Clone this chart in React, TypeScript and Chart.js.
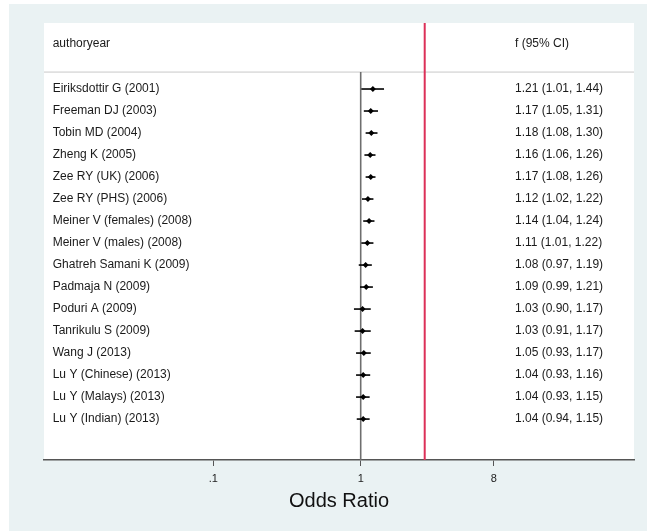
import React, { useEffect, useRef } from "react";
import { Chart, registerables } from "chart.js";

Chart.register(...registerables);

const studies = [
  "Eiriksdottir G (2001)",
  "Freeman DJ (2003)",
  "Tobin MD (2004)",
  "Zheng K (2005)",
  "Zee RY (UK) (2006)",
  "Zee RY (PHS) (2006)",
  "Meiner V (females) (2008)",
  "Meiner V (males) (2008)",
  "Ghatreh Samani K (2009)",
  "Padmaja N (2009)",
  "Poduri A (2009)",
  "Tanrikulu S (2009)",
  "Wang J (2013)",
  "Lu Y (Chinese) (2013)",
  "Lu Y (Malays) (2013)",
  "Lu Y (Indian) (2013)",
];
const estimates = [1.21, 1.17, 1.18, 1.16, 1.17, 1.12, 1.14, 1.11, 1.08, 1.09, 1.03, 1.03, 1.05, 1.04, 1.04, 1.04];
const lower = [1.01, 1.05, 1.08, 1.06, 1.08, 1.02, 1.04, 1.01, 0.97, 0.99, 0.9, 0.91, 0.93, 0.93, 0.93, 0.94];
const upper = [1.44, 1.31, 1.3, 1.26, 1.26, 1.22, 1.24, 1.22, 1.19, 1.21, 1.17, 1.17, 1.17, 1.16, 1.15, 1.15];
const tickValues = [0.1, 1, 8];
const tickLabels = [".1", "1", "8"];
const headerLeft = "authoryear";
const headerRight = "f (95% CI)";
const axisTitle = "Odds Ratio";
const refLine = 1;
const redLine = Math.E;

const X_MIN = 0.0071;
const X_MAX = 71.5;
const Y_MIN = -2;
const Y_MAX = 17.86;
const HEADER_Y = -1.07;
const RULE_Y = 0.23;

const FONT = "'Liberation Sans', Arial, Helvetica, sans-serif";

export default function App() {
  const ref = useRef<HTMLCanvasElement | null>(null);

  useEffect(() => {
    if (!ref.current) return;

    const ciDatasets = studies.map((_, i) => ({
      type: "line" as const,
      data: [
        { x: lower[i], y: i + 1 },
        { x: upper[i], y: i + 1 },
      ],
      borderColor: "#000000",
      borderWidth: 1.6,
      pointRadius: 0,
      fill: false,
      order: 2,
    }));

    const bgPlugin = {
      id: "bg",
      beforeDraw(chart: any) {
        const { ctx, chartArea } = chart;
        ctx.save();
        ctx.fillStyle = "#ffffff";
        ctx.fillRect(0, 0, chart.width, chart.height);
        ctx.fillStyle = "#eaf2f3";
        ctx.fillRect(9, 4, chart.width - 9, chart.height - 4);
        ctx.fillStyle = "#ffffff";
        ctx.fillRect(chartArea.left, chartArea.top, chartArea.right - chartArea.left, chartArea.bottom - chartArea.top);
        ctx.restore();
      },
    };

    const textPlugin = {
      id: "forestText",
      afterDatasetsDraw(chart: any) {
        const { ctx, chartArea, scales } = chart;
        const ys = scales.y;
        ctx.save();
        ctx.fillStyle = "#1a1a1a";
        ctx.font = `12px ${FONT}`;
        ctx.textBaseline = "middle";
        ctx.textAlign = "left";
        const leftX = chartArea.left + 8.7;
        const rightX = 515;
        ctx.fillText(headerLeft, leftX, ys.getPixelForValue(HEADER_Y));
        ctx.fillText(headerRight, rightX, ys.getPixelForValue(HEADER_Y));
        studies.forEach((s, i) => {
          const y = ys.getPixelForValue(i + 1);
          ctx.fillText(s, leftX, y);
          ctx.fillText(
            `${estimates[i].toFixed(2)} (${lower[i].toFixed(2)}, ${upper[i].toFixed(2)})`,
            rightX,
            y
          );
        });
        ctx.restore();
      },
    };

    const chart = new Chart(ref.current, {
      type: "scatter",
      data: {
        datasets: [
          {
            type: "line",
            data: [
              { x: X_MIN, y: RULE_Y },
              { x: X_MAX, y: RULE_Y },
            ],
            borderColor: "#c9c9c9",
            borderWidth: 1,
            pointRadius: 0,
            order: 5,
          },
          {
            type: "line",
            data: [
              { x: refLine, y: RULE_Y },
              { x: refLine, y: Y_MAX },
            ],
            borderColor: "#6e6e6e",
            borderWidth: 1.6,
            pointRadius: 0,
            order: 4,
          },
          {
            type: "line",
            data: [
              { x: redLine, y: Y_MIN },
              { x: redLine, y: Y_MAX },
            ],
            borderColor: "#dc3058",
            borderWidth: 2,
            pointRadius: 0,
            order: 3,
          },
          ...ciDatasets,
          {
            type: "scatter",
            data: estimates.map((v, i) => ({ x: v, y: i + 1 })),
            pointStyle: "rectRot",
            pointRadius: 3,
            backgroundColor: "#000000",
            borderColor: "#000000",
            borderWidth: 0,
            order: 1,
          },
        ] as any,
      },
      options: {
        animation: false,
        responsive: false,
        maintainAspectRatio: false,
        layout: { padding: { left: 44, right: 13, top: 23, bottom: 15.8 } },
        plugins: {
          legend: { display: false },
          tooltip: { enabled: false },
        },
        scales: {
          x: {
            type: "logarithmic",
            min: X_MIN,
            max: X_MAX,
            afterBuildTicks(scale: any) {
              scale.ticks = tickValues.map((v) => ({ value: v }));
            },
            ticks: {
              autoSkip: false,
              maxRotation: 0,
              padding: 6,
              color: "#222222",
              font: { family: FONT, size: 11 },
              callback(value: any) {
                const idx = tickValues.indexOf(Number(value));
                return idx >= 0 ? tickLabels[idx] : "";
              },
            },
            grid: {
              drawOnChartArea: false,
              drawTicks: true,
              tickLength: 6,
              color: "#555555",
              lineWidth: 1,
            },
            border: { display: true, color: "#555555", width: 1.6 },
            title: {
              display: true,
              text: axisTitle,
              color: "#111111",
              font: { family: FONT, size: 20, lineHeight: 1.0 },
              padding: { top: 0, bottom: 4 },
            },
          },
          y: {
            type: "linear",
            display: false,
            reverse: true,
            min: Y_MIN,
            max: Y_MAX,
          },
        },
      },
      plugins: [bgPlugin, textPlugin],
    });

    return () => chart.destroy();
  }, []);

  return (
    <div style={{ position: "absolute", left: 0, top: 0, width: 647, height: 531 }}>
      <canvas ref={ref} width={647} height={531} style={{ width: 647, height: 531, display: "block" }} />
    </div>
  );
}
